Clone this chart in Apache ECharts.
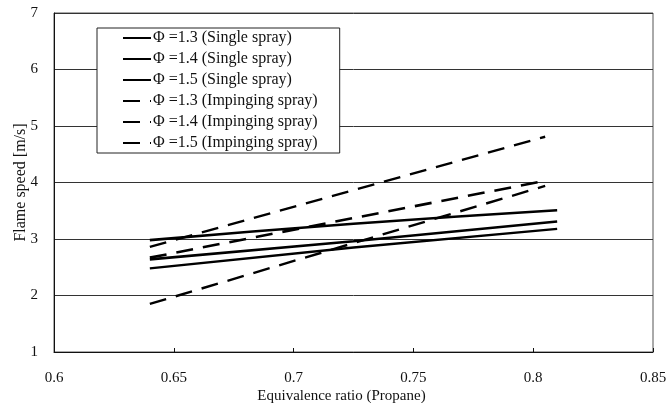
<!DOCTYPE html>
<html>
<head>
<meta charset="utf-8">
<script src="https://cdn.jsdelivr.net/npm/echarts@6/dist/echarts.min.js"></script>
<style>
html,body{margin:0;padding:0;background:#fff;}
#chart{width:666px;height:403px;}
</style>
</head>
<body>
<div id="chart"></div>
<script>
// Series names (legend)
const seriesNames = [
  'Φ =1.3 (Single spray)',
  'Φ =1.4 (Single spray)',
  'Φ =1.5 (Single spray)',
  'Φ =1.3 (Impinging spray)',
  'Φ =1.4 (Impinging spray)',
  'Φ =1.5 (Impinging spray)'
];
// Equivalence ratio values
const xSingle = [0.64, 0.725, 0.81];
const xImpinging = [0.64, 0.805];
// Flame speed [m/s]
const single13 = [2.98, 3.27, 3.51];
const single14 = [2.64, 2.96, 3.31];
const single15 = [2.48, 2.85, 3.18];
const impinging13 = [2.86, 4.81];
const impinging14 = [2.67, 4.03];
const impinging15 = [1.85, 3.94];
// Axis ticks
const xTicks = [0.6, 0.65, 0.7, 0.75, 0.8, 0.85];
const yTicks = [1, 2, 3, 4, 5, 6, 7];

const font = 'Liberation Serif, Times New Roman, serif';
function pairs(xs, ys){ return xs.map((x,i)=>[x, ys[i]]); }

const seriesData = [
  {x: xSingle, y: single13, dash: 'solid', w: 2.6},
  {x: xSingle, y: single14, dash: 'solid', w: 2.6},
  {x: xSingle, y: single15, dash: 'solid', w: 2.4},
  {x: xImpinging, y: impinging13, dash: [17, 10], w: 2.4},
  {x: xImpinging, y: impinging14, dash: [17, 10], w: 2.6},
  {x: xImpinging, y: impinging15, dash: [17, 10], w: 2.4}
];

const chart = echarts.init(document.getElementById('chart'), null, {renderer: 'canvas'});
chart.setOption({
  animation: false,
  backgroundColor: '#fff',
  grid: {left: 54, right: 13, top: 13, bottom: 51, containLabel: false, outerBoundsMode: 'none',
    show: true, borderColor: '#555', borderWidth: 1},
  legend: {
    orient: 'vertical',
    left: 97, top: 28,
    backgroundColor: '#fff',
    borderColor: '#222', borderWidth: 1,
    padding: [2, 22, 2, 25],
    itemWidth: 28, itemHeight: 14, itemGap: 5,
    itemStyle: {opacity: 0},
    textStyle: {fontFamily: font, fontSize: 16, color: '#111', padding: [0,0,0,-3]},
    data: seriesNames.map(n => ({name: n}))
  },
  xAxis: {
    type: 'value', min: xTicks[0], max: xTicks[xTicks.length-1], interval: 0.05,
    name: 'Equivalence ratio (Propane)', nameLocation: 'middle', nameGap: 37,
    nameMoveOverlap: false,
    nameTextStyle: {fontFamily: font, fontSize: 15, color: '#111', padding: [0, 24, 0, 0]},
    axisLine: {show: true, lineStyle: {color: '#111', width: 1}},
    axisTick: {show: true, inside: true, length: 4, lineStyle: {color: '#111'}},
    axisLabel: {fontFamily: font, fontSize: 15, color: '#111', margin: 19,
      formatter: v => String(Math.round(v*100)/100)},
    splitLine: {show: false}
  },
  yAxis: {
    type: 'value', min: yTicks[0], max: yTicks[yTicks.length-1], interval: 1,
    name: 'Flame speed [m/s]', nameLocation: 'middle', nameGap: 25,
    nameMoveOverlap: false,
    nameTextStyle: {fontFamily: font, fontSize: 16, color: '#111'},
    axisLine: {show: true, lineStyle: {color: '#111', width: 1}},
    axisTick: {show: false},
    axisLabel: {fontFamily: font, fontSize: 15, color: '#111', margin: 16},
    splitLine: {show: true, lineStyle: {color: '#333', width: 1}}
  },
  series: seriesData.map((s, i) => ({
    name: seriesNames[i],
    type: 'line',
    smooth: s.x.length > 2,
    symbol: 'none',
    showSymbol: false,
    data: pairs(s.x, s.y),
    lineStyle: {color: '#000', width: s.w, type: s.dash},
    itemStyle: {color: '#000'},
    z: 3
  }))
});
</script>
</body>
</html>
